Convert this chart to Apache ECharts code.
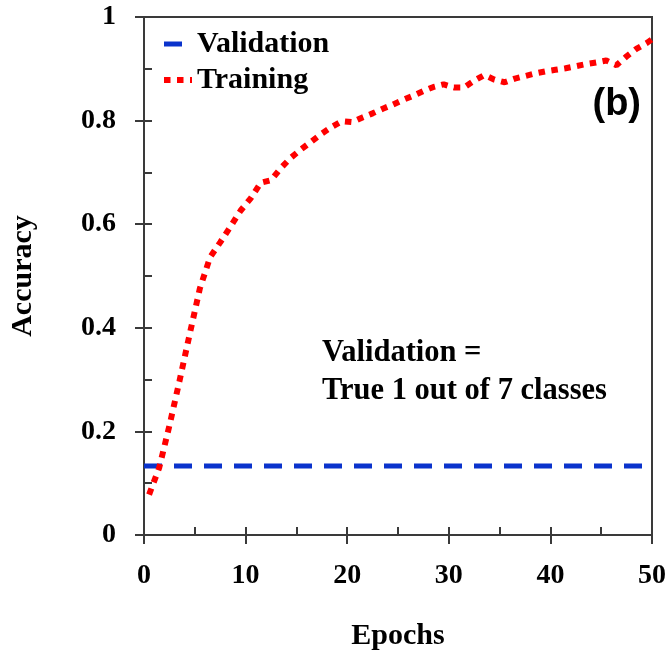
<!DOCTYPE html>
<html>
<head>
<meta charset="utf-8">
<title>Accuracy vs Epochs</title>
<script src="https://cdn.jsdelivr.net/npm/echarts@6/dist/echarts.min.js"></script>
<style>
  html, body { margin: 0; padding: 0; background: #fff; }
  #chart { width: 670px; height: 656px; }
</style>
</head>
<body>
<div id="chart"></div>
<script>
// data
const trainEpochs = [0.5, 1.5, 2.5, 3.5, 4.5, 5.5, 6.5, 7.5, 8.5, 9.5,
  10.5, 11.5, 12.5, 13.5, 14.5, 15.5, 16.5, 17.5, 18.5, 19.5,
  20.5, 21.5, 22.5, 23.5, 24.5, 25.5, 26.5, 27.5, 28.5, 29.5,
  30.5, 31.5, 32.5, 33.5, 34.5, 35.5, 36.5, 37.5, 38.5, 39.5,
  40.5, 41.5, 42.5, 43.5, 44.5, 45.5, 46.5, 47.5, 48.5, 49.5, 50];
const trainAcc = [0.078, 0.130, 0.211, 0.298, 0.388, 0.476, 0.536, 0.565, 0.595, 0.626,
  0.650, 0.680, 0.685, 0.709, 0.729, 0.745, 0.760, 0.775, 0.788, 0.799,
  0.797, 0.806, 0.814, 0.823, 0.831, 0.840, 0.848, 0.857, 0.865, 0.870,
  0.864, 0.864, 0.877, 0.888, 0.879, 0.874, 0.881, 0.886, 0.891, 0.895,
  0.898, 0.901, 0.905, 0.909, 0.912, 0.916, 0.907, 0.924, 0.939, 0.950, 0.957];
const valEpochs = [0, 50];
const valAcc = [0.133, 0.133];

const xTicks = [0, 10, 20, 30, 40, 50];
const yTicks = [0, 0.2, 0.4, 0.6, 0.8, 1];

const serif = "'Liberation Serif', 'Times New Roman', serif";
const axisColor = "#3a3a3a";

const chart = echarts.init(document.getElementById("chart"));

const labelStyle = {
  fontFamily: serif,
  fontWeight: "bold",
  fontSize: 28,
  color: "#000",
};

chart.setOption({
  animation: false,
  grid: {
    left: 143,
    right: 18,
    top: 17,
    bottom: 118,
    show: true,
    borderColor: axisColor,
    borderWidth: 2,
  },
  legend: {
    orient: "vertical",
    left: 156,
    top: 24,
    itemWidth: 28,
    itemHeight: 14,
    itemGap: 6,
    itemStyle: { opacity: 0 },
    lineStyle: { width: "inherit" },
    textStyle: { fontFamily: serif, fontWeight: "bold", fontSize: 30, color: "#000" },
    data: ["Validation", "Training"],
  },
  xAxis: [
    {
      type: "value",
      min: xTicks[0],
      max: xTicks[xTicks.length - 1],
      interval: 10,
      name: "Epochs",
      nameLocation: "middle",
      nameGap: 86,
      nameTextStyle: { fontFamily: serif, fontWeight: "bold", fontSize: 30, color: "#000" },
      axisLine: { lineStyle: { color: axisColor, width: 2 } },
      axisTick: { inside: true, length: 8, lineStyle: { color: axisColor, width: 2 } },
      minorTick: { show: true, splitNumber: 2, length: 8, lineStyle: { color: axisColor, width: 2 } },
      splitLine: { show: false },
      axisLabel: Object.assign({ margin: 27 }, labelStyle),
    },
    {
      // outward half of the major ticks
      type: "value",
      position: "bottom",
      min: xTicks[0],
      max: xTicks[xTicks.length - 1],
      interval: 10,
      axisLine: { show: false },
      axisTick: { inside: false, length: 9, lineStyle: { color: axisColor, width: 2 } },
      axisLabel: { show: false },
      splitLine: { show: false },
    },
  ],
  yAxis: [
    {
      type: "value",
      min: yTicks[0],
      max: yTicks[yTicks.length - 1],
      interval: 0.2,
      name: "Accuracy",
      nameLocation: "middle",
      nameGap: 106,
      nameRotate: 90,
      nameTextStyle: { fontFamily: serif, fontWeight: "bold", fontSize: 30, color: "#000" },
      axisLine: { show: true, lineStyle: { color: axisColor, width: 2 } },
      axisTick: { show: true, inside: true, length: 8, lineStyle: { color: axisColor, width: 2 } },
      minorTick: { show: true, splitNumber: 2, length: 8, lineStyle: { color: axisColor, width: 2 } },
      splitLine: { show: false },
      axisLabel: Object.assign({ margin: 28, formatter: (v) => String(+v.toFixed(1)) }, labelStyle),
    },
    {
      type: "value",
      position: "left",
      min: yTicks[0],
      max: yTicks[yTicks.length - 1],
      interval: 0.2,
      axisLine: { show: false },
      axisTick: { show: true, inside: false, length: 9, lineStyle: { color: axisColor, width: 2 } },
      axisLabel: { show: false },
      splitLine: { show: false },
    },
  ],
  series: [
    {
      name: "Validation",
      type: "line",
      showSymbol: false,
      symbol: "none",
      data: valEpochs.map((e, i) => [e, valAcc[i]]),
      lineStyle: { color: "#0a33cc", width: 5, type: [18, 12], cap: "butt" },
      itemStyle: { color: "#0a33cc" },
    },
    {
      name: "Training",
      type: "line",
      showSymbol: false,
      symbol: "none",
      data: trainEpochs.map((e, i) => [e, trainAcc[i]]),
      lineStyle: { color: "#ff0000", width: 6, type: [6.5, 6.5], cap: "butt" },
      itemStyle: { color: "#ff0000" },
    },
  ],
  graphic: [
    {
      type: "text",
      left: 322,
      top: 334,
      style: {
        text: "Validation =\nTrue 1 out of 7 classes",
        font: "bold 30.5px " + serif,
        lineHeight: 38,
        fill: "#000",
      },
    },
    {
      type: "text",
      right: 29,
      top: 86,
      style: {
        text: "(b)",
        font: "bold 38px 'Liberation Sans', Arial, sans-serif",
        fill: "#000",
      },
    },
  ],
});
</script>
</body>
</html>
